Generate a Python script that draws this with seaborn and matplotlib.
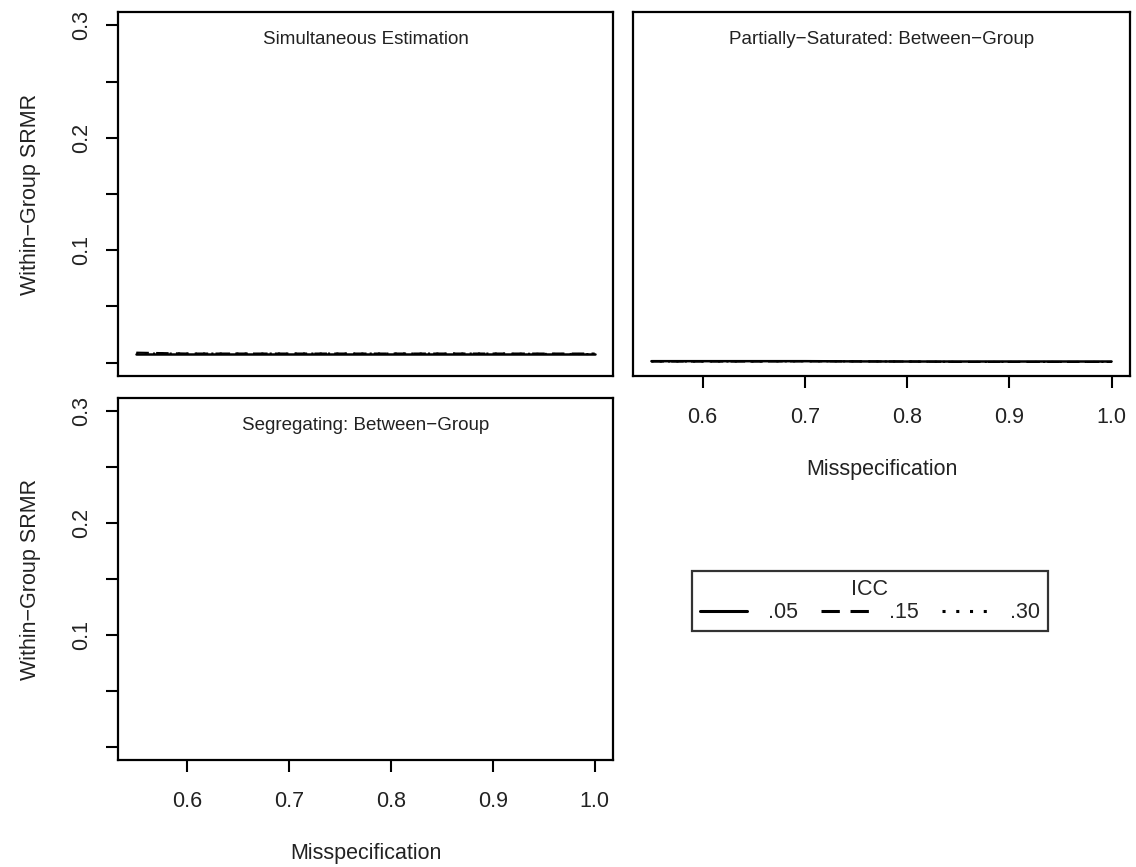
import matplotlib
matplotlib.use("Agg")
import matplotlib.pyplot as plt
import seaborn as sns
import pandas as pd
import numpy as np
from matplotlib.lines import Line2D

sns.set_theme(style="white")
plt.rcParams['font.family'] = ['Liberation Sans', 'DejaVu Sans']

# ---- data ----
misspec = [0.55, 0.60, 0.65, 0.70, 0.75, 0.80, 0.85, 0.90, 0.95, 1.00]
icc_levels = [".05", ".15", ".30"]
sim_05 = [0.0080, 0.0080, 0.0080, 0.0080, 0.0080, 0.0080, 0.0080, 0.0080, 0.0080, 0.0080]
sim_15 = [0.0088, 0.0080, 0.0080, 0.0080, 0.0080, 0.0080, 0.0080, 0.0080, 0.0080, 0.0080]
sim_30 = [0.0080, 0.0080, 0.0080, 0.0080, 0.0080, 0.0080, 0.0080, 0.0080, 0.0077, 0.0075]
ps_05 = [0.0012, 0.0012, 0.0012, 0.0012, 0.0010, 0.0009, 0.0009, 0.0009, 0.0009, 0.0009]
ps_15 = [0.0009, 0.0009, 0.0009, 0.0011, 0.0010, 0.0009, 0.0005, 0.0005, 0.0005, 0.0005]
ps_30 = [0.0009, 0.0009, 0.0009, 0.0011, 0.0010, 0.0009, 0.0005, 0.0005, 0.0005, 0.0005]
panel_titles = ["Simultaneous Estimation", "Partially\u2212Saturated: Between\u2212Group",
                "Segregating: Between\u2212Group"]
xticks = [0.6, 0.7, 0.8, 0.9, 1.0]
xticklabels = ["0.6", "0.7", "0.8", "0.9", "1.0"]
yticks = [0.0, 0.05, 0.1, 0.15, 0.2, 0.25, 0.3]
yticklabels = ["", "", "0.1", "", "0.2", "", "0.3"]
ylabel = "Within\u2212Group SRMR"
xlabel = "Misspecification"

def make_df(a, b, c):
    rows = []
    for lev, vals in zip(icc_levels, [a, b, c]):
        for x, v in zip(misspec, vals):
            rows.append({"Misspecification": x, "SRMR": v, "ICC": lev})
    return pd.DataFrame(rows)

dash_15 = (6, 3.5)
dash_30 = (1, 3)
dashes = {".05": "", ".15": dash_15, ".30": dash_30}

W, H = 1136, 867
fig = plt.figure(figsize=(W / 100, H / 100), dpi=100)

def px_axes(x0, y0, x1, y1):
    return fig.add_axes([x0 / W, 1 - y1 / H, (x1 - x0) / W, (y1 - y0) / H])

ax1 = px_axes(118, 12, 613, 376)
ax2 = px_axes(633, 12, 1130, 376)
ax3 = px_axes(118, 398, 613, 760)

xr = (0.55 - 0.018, 1.0 + 0.018)
yr = (0 - 0.012, 0.3 + 0.012)

for ax in (ax1, ax2, ax3):
    ax.set_xlim(*xr)
    ax.set_ylim(*yr)
    for s in ax.spines.values():
        s.set_linewidth(1.6)
        s.set_color("black")
    ax.tick_params(direction="out", length=8.6, width=1.5, color="black",
                   labelsize=15.5, labelcolor="#222222", bottom=True, left=True)
    ax.set_facecolor("white")

for ax, (a, b, c) in ((ax1, (sim_05, sim_15, sim_30)), (ax2, (ps_05, ps_15, ps_30))):
    sns.lineplot(data=make_df(a, b, c), x="Misspecification", y="SRMR",
                 style="ICC", dashes=dashes, color="black", linewidth=1.8, ax=ax,
                 legend=False)
    # solid line drawn on top, as in the reference
    lines = ax.get_lines()
    if lines:
        lines[0].set_zorder(5)
        for ln in lines[1:]:
            ln.set_linewidth(1.5)

for ax, t in zip((ax1, ax2, ax3), panel_titles):
    ax.text(0.5, 1 - 28 / 364, t, transform=ax.transAxes, ha="center", va="center",
            fontsize=13.5, color="#222222")

# y axes
for ax in (ax1, ax3):
    ax.set_yticks(yticks)
    ax.set_yticklabels(yticklabels, rotation=90, va="center")
    ax.tick_params(axis="y", pad=10)
    ax.set_ylabel(ylabel, fontsize=15.5, labelpad=22, color="#222222")
ax2.set_yticks([])
ax2.tick_params(left=False)
ax2.set_ylabel("")

# x axes
ax1.set_xticks([])
ax1.tick_params(bottom=False)
ax1.set_xlabel("")
for ax in (ax2, ax3):
    ax.set_xticks(xticks)
    ax.set_xticklabels(xticklabels)
    ax.tick_params(axis="x", pad=14)
    ax.set_xlabel(xlabel, fontsize=15.5, labelpad=22, color="#222222")

# legend
handles = [Line2D([0], [0], color="black", lw=2.2, linestyle="-"),
           Line2D([0], [0], color="black", lw=2.2, linestyle=(0, dash_15)),
           Line2D([0], [0], color="black", lw=2.2, linestyle=(0, (1, 3.5)))]
leg = fig.legend(handles, icc_levels, title="ICC", ncol=3, loc="center",
                 bbox_to_anchor=(870 / W, 1 - 601 / H), fontsize=15.5, title_fontsize=15.5,
                 frameon=True, fancybox=False, edgecolor="black", handlelength=2.2,
                 columnspacing=1.1, handletextpad=0.95, borderpad=0.35, labelspacing=0.1)
leg.get_frame().set_linewidth(1.6)

fig.savefig("out.png", dpi=100, facecolor="white")
